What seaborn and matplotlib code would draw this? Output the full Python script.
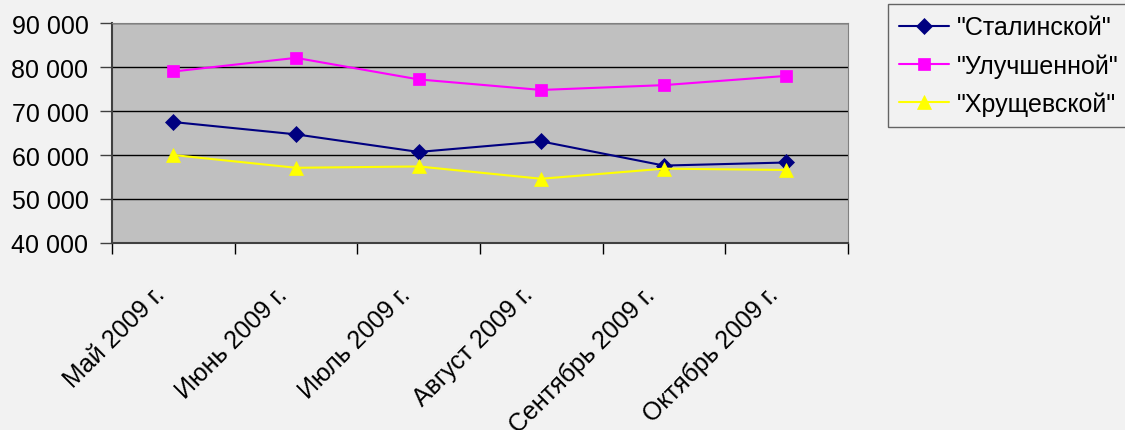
import matplotlib
matplotlib.use("Agg")
import matplotlib.pyplot as plt
import numpy as np
import pandas as pd
import seaborn as sns

months = ["Май 2009 г.", "Июнь 2009 г.", "Июль 2009 г.",
          "Август 2009 г.", "Сентябрь 2009 г.", "Октябрь 2009 г."]
stalin = [67500, 64700, 60700, 63100, 57600, 58300]
improved = [79000, 82100, 77200, 74800, 75900, 78000]
khrush = [60000, 57100, 57400, 54600, 56900, 56600]
series_names = ['"Сталинской"', '"Улучшенной"', '"Хрущевской"']
y_ticks = [40000, 50000, 60000, 70000, 80000, 90000]
y_labels = ["40 000", "50 000", "60 000", "70 000", "80 000", "90 000"]

# long table for seaborn
pos = np.arange(len(months))
df = pd.concat([
    pd.DataFrame({"pos": pos, "value": vals, "series": name})
    for name, vals in zip(series_names, [stalin, improved, khrush])
])

sns.set_style("ticks")
plt.rcParams["font.family"] = ["Liberation Sans", "DejaVu Sans"]
plt.rcParams["text.color"] = "black"
plt.rcParams["xtick.color"] = "black"
plt.rcParams["ytick.color"] = "black"

fig = plt.figure(figsize=(11.25, 4.31), dpi=100, facecolor="#f2f2f2")
ax = fig.add_axes([0.0996, 0.434, 0.654, 0.51])
ax.set_facecolor("#c0c0c0")

colors = {series_names[0]: "#000080", series_names[1]: "#ff00ff", series_names[2]: "#ffff00"}
markers = {series_names[0]: "D", series_names[1]: "s", series_names[2]: "^"}
sns.lineplot(data=df, x="pos", y="value", hue="series", style="series",
             palette=colors, markers=markers, dashes=False, markersize=8,
             linewidth=1.5, legend=False, ax=ax, zorder=3)
for ln in ax.lines:
    ln.set_markeredgecolor(ln.get_color())
    ln.set_markeredgewidth(0.5)
ax.lines[2].set_markersize(10)

ax.set_xlim(-0.5, len(months) - 0.5)
ax.set_ylim(40000, 90000)
ax.set_yticks(y_ticks)
ax.set_yticklabels(y_labels, fontsize=18, color="black")
# label anchors sit a bit left of the category centres, like the original
ax.set_xticks(pos - 0.17)
ax.set_xticklabels(months, fontsize=18, rotation=45, ha="right",
                   va="top", rotation_mode="anchor", color="black")
ax.set_xticks(np.arange(len(months) + 1) - 0.5, minor=True)
ax.tick_params(axis="x", which="major", length=0, pad=28)
ax.tick_params(axis="x", which="minor", bottom=True, length=8,
               color="black", width=1)
ax.tick_params(axis="y", which="major", left=True, length=9,
               color="#404040", width=1, pad=8)
ax.set_xlabel("")
ax.set_ylabel("")
ax.grid(axis="y", color="black", linewidth=1)
ax.set_axisbelow(True)

for side in ["top", "right"]:
    ax.spines[side].set_visible(True)
    ax.spines[side].set_color("#808080")
for side in ["left", "bottom"]:
    ax.spines[side].set_color("#404040")
    ax.spines[side].set_linewidth(1.5)

leg = ax.legend(handles=ax.lines[:3], labels=series_names, loc="upper left",
                bbox_to_anchor=(0.789, 0.988), bbox_transform=fig.transFigure,
                borderaxespad=0, fontsize=18, frameon=True, fancybox=False,
                handlelength=2.0, handletextpad=0.3, labelspacing=0.55,
                borderpad=0.45)
leg.get_frame().set_edgecolor("#404040")
leg.get_frame().set_facecolor("#f2f2f2")
leg.get_frame().set_linewidth(1)

fig.savefig("out.png", dpi=100, facecolor=fig.get_facecolor())
